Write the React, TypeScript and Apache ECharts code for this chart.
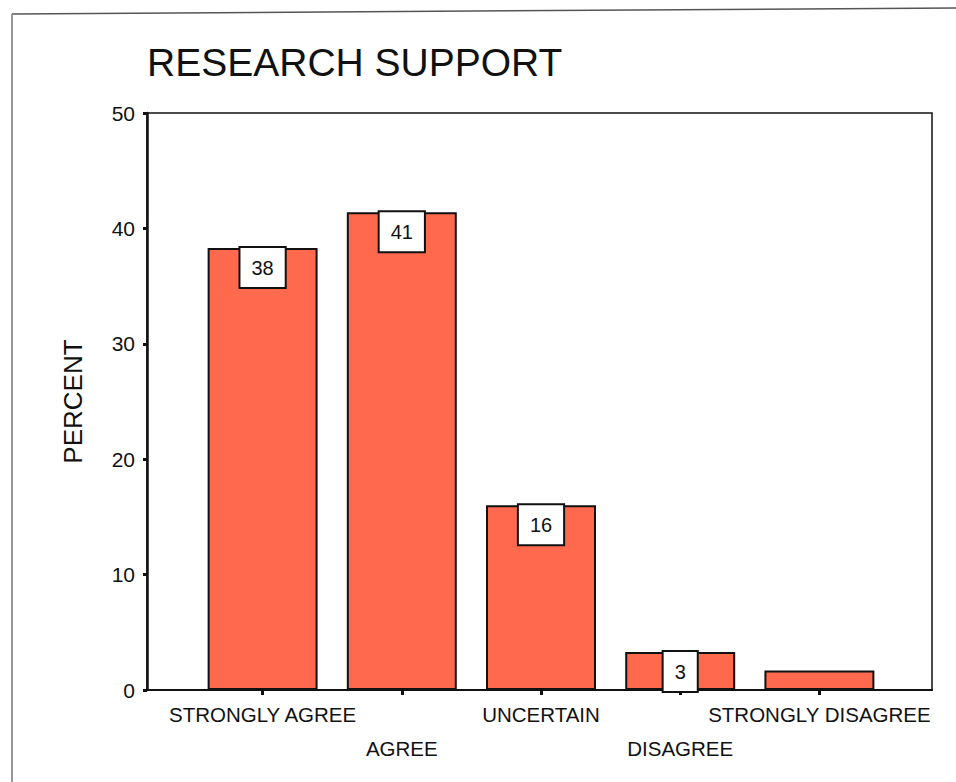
import React, { useEffect, useRef } from "react";
import * as echarts from "echarts";

const categories = ["STRONGLY AGREE", "AGREE", "UNCERTAIN", "DISAGREE", "STRONGLY DISAGREE"];
const percentValues = [38.3, 41.4, 16.0, 3.3, 1.7];
const shownLabels = ["38", "41", "16", "3", ""];
const yTicks = [0, 10, 20, 30, 40, 50];

const FONT = "'Liberation Sans', Arial, sans-serif";
const BAR_COLOR = "#FF6A4F";

export default function App() {
  const ref = useRef<HTMLDivElement>(null);
  useEffect(() => {
    if (!ref.current) return;
    const chart = echarts.init(ref.current, undefined, { renderer: "svg" });
    chart.setOption({
      animation: false,
      backgroundColor: "#ffffff",
      textStyle: { fontFamily: FONT, color: "#111" },
      title: {
        text: "RESEARCH SUPPORT",
        left: 142,
        top: 38,
        textStyle: { fontFamily: FONT, fontSize: 39, fontWeight: "normal", color: "#111" },
      },
      graphic: [
        { type: "line", shape: { x1: 12, y1: 14, x2: 956, y2: 8 }, style: { stroke: "#555", lineWidth: 1.5 } },
        { type: "line", shape: { x1: 12, y1: 14, x2: 12, y2: 782 }, style: { stroke: "#777", lineWidth: 1.5 } },
      ],
      grid: [
        { left: 147, top: 113, width: 785, height: 577, show: true, borderColor: "#111", borderWidth: 1.5, backgroundColor: "transparent" },
        { left: 193, top: 113, width: 696, height: 577 },
      ],
      xAxis: [
        {
          gridIndex: 0,
          type: "value",
          min: 0,
          max: 1,
          axisLine: { show: true, lineStyle: { color: "#111", width: 2 } },
          axisTick: { show: false },
          axisLabel: { show: false },
          splitLine: { show: false },
        },
        {
          gridIndex: 1,
          type: "category",
          data: categories,
          axisLine: { show: false },
          axisTick: { show: true, alignWithLabel: true, length: 5, lineStyle: { color: "#111", width: 3 } },
          axisLabel: {
            interval: 0,
            margin: 7,
            fontFamily: FONT,
            fontSize: 20.5,
            color: "#111",
            lineHeight: 34,
            formatter: (v: string, i: number) => (i % 2 === 1 ? "\n" + v : v),
          },
          splitLine: { show: false },
        },
      ],
      yAxis: [
        {
          gridIndex: 0,
          type: "value",
          min: 0,
          max: 50,
          interval: 10,
          name: "PERCENT",
          nameLocation: "middle",
          nameGap: 61,
          nameRotate: 90,
          nameTextStyle: { fontFamily: FONT, fontSize: 26, color: "#111" },
          axisLine: { show: true, lineStyle: { color: "#111", width: 2.5 } },
          axisTick: { show: true, length: 4, lineStyle: { color: "#111", width: 3 } },
          axisLabel: {
            margin: 12,
            fontFamily: FONT,
            fontSize: 21,
            color: "#111",
            customValues: yTicks,
          },
          splitLine: { show: false },
        },
        {
          gridIndex: 1,
          type: "value",
          min: 0,
          max: 50,
          show: false,
        },
      ],
      series: [
        {
          type: "bar",
          xAxisIndex: 1,
          yAxisIndex: 1,
          barCategoryGap: "21%",
          data: percentValues.map((v, i) => ({
            value: v,
            label: { show: shownLabels[i] !== "" },
          })),
          itemStyle: { color: BAR_COLOR, borderColor: "#111", borderWidth: 2 },
          label: {
            show: true,
            position: "insideTop",
            distance: 0,
            formatter: (p: any) => shownLabels[p.dataIndex],
            fontFamily: FONT,
            fontSize: 20,
            color: "#111",
            backgroundColor: "#fff",
            borderColor: "#111",
            borderWidth: 2,
            padding: [10, 11, 9, 11],
            lineHeight: 20,
          },
        },
      ],
    });
    return () => chart.dispose();
  }, []);
  return (
    <div
      ref={ref}
      style={{ position: "fixed", left: 0, top: 0, width: 956, height: 782 }}
    />
  );
}
